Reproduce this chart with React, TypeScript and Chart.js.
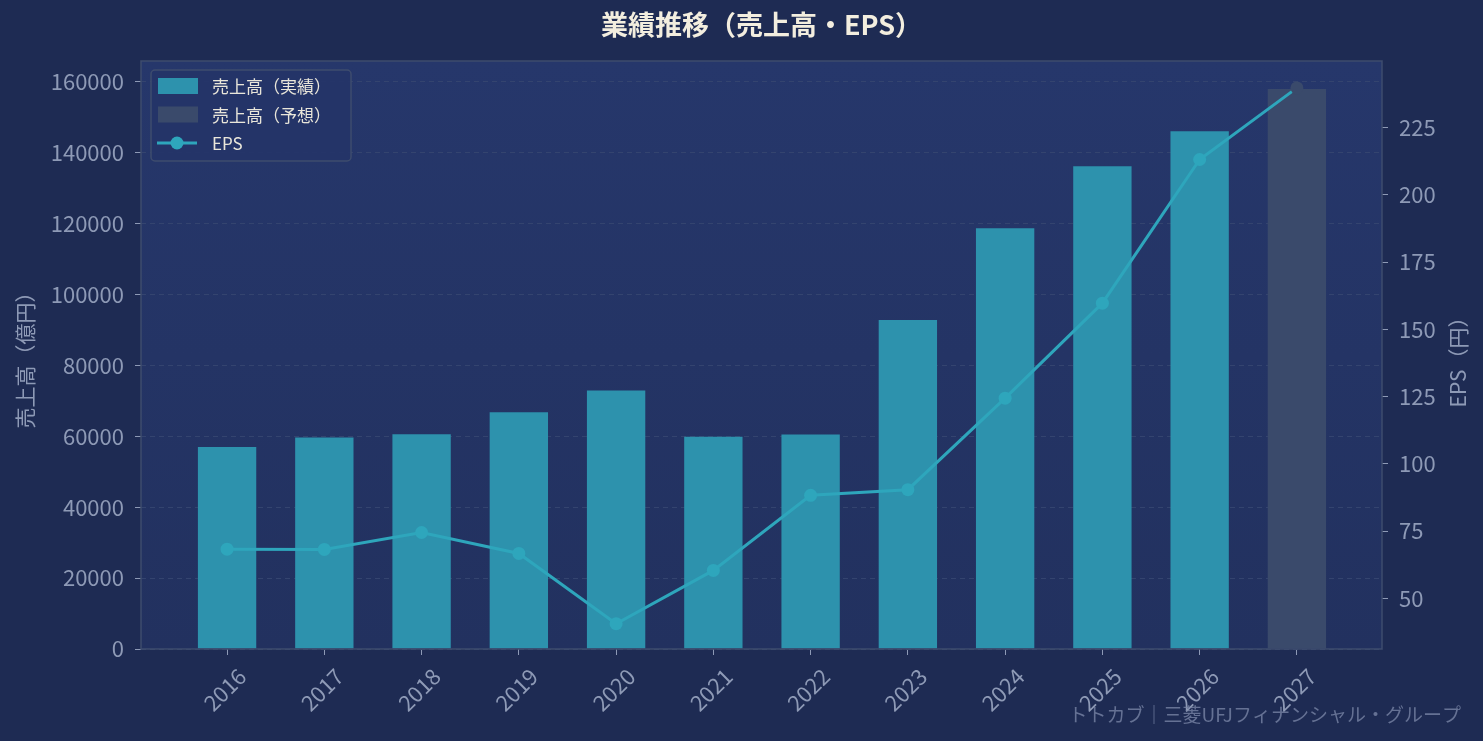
import React, { useEffect, useRef } from "react";
import { Chart, registerables } from "chart.js";

Chart.register(...registerables);

// ---- data ----
const years = ["2016", "2017", "2018", "2019", "2020", "2021", "2022", "2023", "2024", "2025", "2026", "2027"];
const revenueActual = [57000, 59700, 60600, 66800, 72900, 59900, 60500, 92800, 118700, 136200, 146100];
const revenueForecast = [158000];
const forecastStart = 11;
const eps = [68.3, 68.2, 74.5, 66.7, 40.6, 60.4, 88.3, 90.4, 124.4, 159.7, 213.1, 239.7];
const revenueTicks = [0, 20000, 40000, 60000, 80000, 100000, 120000, 140000, 160000];
const epsTicks = [50, 75, 100, 125, 150, 175, 200, 225];

const titleText = "業績推移（売上高・EPS）";
const leftTitle = "売上高（億円）";
const rightTitle = "EPS（円）";
const watermark = "トトカブ｜三菱UFJフィナンシャル・グループ";
const labelActual = "売上高（実績）";
const labelForecast = "売上高（予想）";
const labelEps = "EPS";

// ---- styles ----
const FONT = "'Noto Sans CJK JP', 'Noto Sans', sans-serif";
const BG = "#1e2b53";
const PLOT_TOP = "#26376b";
const PLOT_BOTTOM = "#22315f";
const FRAME = "#3e4c6e";
const TICK = "#8e9ab6";
const GRID = "#34446f";
const BAR_ACTUAL = "#2d92ad";
const BAR_FORECAST = "#3a4a6b";
const LINE = "#2ea6bc";
const TITLE_COLOR = "#f3eedf";
const LEGEND_TEXT = "#e9e6da";
const TICK_SIZE = 22;

const bgPlugin = {
  id: "bgPlugin",
  beforeDraw(chart: any) {
    const { ctx, chartArea: ca, width, height } = chart;
    ctx.save();
    ctx.fillStyle = BG;
    ctx.fillRect(0, 0, width, height);
    const g = ctx.createLinearGradient(0, ca.top, 0, ca.bottom);
    g.addColorStop(0, PLOT_TOP);
    g.addColorStop(1, PLOT_BOTTOM);
    ctx.fillStyle = g;
    ctx.fillRect(ca.left, ca.top, ca.right - ca.left, ca.bottom - ca.top);
    ctx.restore();
  },
  afterDatasetsDraw(chart: any) {
    const { ctx, chartArea: ca } = chart;
    ctx.save();
    ctx.strokeStyle = FRAME;
    ctx.lineWidth = 1.5;
    ctx.strokeRect(ca.left, ca.top, ca.right - ca.left, ca.bottom - ca.top);

    // legend
    const ds = chart.data.datasets;
    ctx.font = `17px ${FONT}`;
    const maxText = Math.max(...ds.map((d: any) => ctx.measureText(d.label).width));
    const fx = ca.left + 10;
    const fy = ca.top + 9;
    const fw = 61 + maxText + 20;
    const fh = 91;
    ctx.beginPath();
    ctx.roundRect(fx, fy, fw, fh, 4);
    ctx.fillStyle = "rgba(36,52,104,0.92)";
    ctx.fill();
    ctx.strokeStyle = FRAME;
    ctx.lineWidth = 1.5;
    ctx.stroke();
    ds.forEach((d: any, i: number) => {
      const cy = fy + 16 + i * 28.5;
      if (d.type === "line") {
        ctx.strokeStyle = d.borderColor;
        ctx.lineWidth = 3;
        ctx.beginPath();
        ctx.moveTo(fx + 6, cy);
        ctx.lineTo(fx + 46, cy);
        ctx.stroke();
        ctx.fillStyle = d.borderColor;
        ctx.beginPath();
        ctx.arc(fx + 26, cy, 6.5, 0, Math.PI * 2);
        ctx.fill();
      } else {
        ctx.fillStyle = d.backgroundColor;
        ctx.fillRect(fx + 7, cy - 8, 40, 16);
      }
      ctx.fillStyle = LEGEND_TEXT;
      ctx.textAlign = "left";
      ctx.textBaseline = "middle";
      ctx.fillText(d.label, fx + 61, cy + 1);
    });
    ctx.restore();
  },
  afterDraw(chart: any) {
    const { ctx, chartArea: ca, width, height } = chart;
    ctx.save();
    // right axis title (reads bottom to top)
    ctx.translate(width - 25, (ca.top + ca.bottom) / 2 + 2);
    ctx.rotate(-Math.PI / 2);
    ctx.font = `21px ${FONT}`;
    ctx.fillStyle = TICK;
    ctx.textAlign = "center";
    ctx.textBaseline = "middle";
    ctx.fillText(rightTitle, 0, 0);
    ctx.restore();

    ctx.save();
    ctx.font = `19px ${FONT}`;
    ctx.fillStyle = "rgba(125,138,170,0.75)";
    ctx.textAlign = "right";
    ctx.textBaseline = "middle";
    ctx.fillText(watermark, width - 22, height - 26);
    ctx.restore();
  },
};

export default function App() {
  const ref = useRef<HTMLCanvasElement | null>(null);

  useEffect(() => {
    document.body.style.margin = "0";
    document.body.style.background = BG;
    Chart.defaults.font.family = FONT;
    const canvas = ref.current;
    if (!canvas) return;

    const actualPts = revenueActual.map((v, i) => ({ x: i, y: v }));
    const forecastPts = revenueForecast.map((v, i) => ({ x: forecastStart + i, y: v }));
    const epsPts = eps.map((v, i) => ({ x: i, y: v }));
    const pointColors = eps.map((_, i) => (i >= forecastStart ? BAR_FORECAST : LINE));

    const chart = new Chart(canvas, {
      type: "bar",
      data: {
        datasets: [
          {
            type: "bar",
            label: labelActual,
            data: actualPts,
            backgroundColor: BAR_ACTUAL,
            yAxisID: "y",
            order: 2,
            barPercentage: 0.6,
            categoryPercentage: 1,
            grouped: false,
          } as any,
          {
            type: "bar",
            label: labelForecast,
            data: forecastPts,
            backgroundColor: BAR_FORECAST,
            yAxisID: "y",
            order: 1,
            barPercentage: 0.6,
            categoryPercentage: 1,
            grouped: false,
          } as any,
          {
            type: "line",
            label: labelEps,
            data: epsPts,
            borderColor: LINE,
            borderWidth: 3,
            pointRadius: 6.5,
            pointBackgroundColor: pointColors,
            pointBorderWidth: 0,
            yAxisID: "y1",
            order: 0,
            tension: 0,
          } as any,
        ],
      },
      options: {
        animation: false,
        responsive: true,
        maintainAspectRatio: false,
        devicePixelRatio: 1,
        events: [],
        layout: { padding: 0 },
        plugins: {
          legend: { display: false },
          tooltip: { enabled: false },
          title: {
            display: true,
            fullSize: false,
            text: titleText,
            color: TITLE_COLOR,
            font: { family: FONT, size: 27, weight: "bold" },
            padding: { top: 9, bottom: 19.6 },
          },
        },
        scales: {
          x: {
            type: "linear",
            position: "bottom",
            min: -0.885,
            max: 11.875,
            offset: false,
            grid: { offset: false, drawOnChartArea: false, drawTicks: true, tickLength: 6, tickColor: TICK, color: GRID },
            border: { display: false },
            ticks: {
              stepSize: 1,
              includeBounds: false,
              autoSkip: false,
              minRotation: 45,
              maxRotation: 45,
              labelOffset: 15,
              padding: 8,
              color: TICK,
              font: { family: FONT, size: TICK_SIZE },
              callback: (v: any) => (Number.isInteger(v) && years[v] !== undefined ? years[v] : ""),
            },
            afterFit: (s: any) => {
              s.height = 92;
            },
          } as any,
          y: {
            type: "linear",
            position: "left",
            min: 0,
            max: 165900,
            grid: { color: GRID, lineWidth: 1, tickLength: 6, tickColor: TICK, tickBorderDash: [], tickWidth: 1 },
            border: { display: false, dash: [5, 4] },
            ticks: {
              padding: 11,
              color: TICK,
              font: { family: FONT, size: TICK_SIZE },
              callback: (v: any) => String(v),
            },
            afterBuildTicks: (s: any) => {
              s.ticks = revenueTicks.map((v) => ({ value: v }));
            },
            title: {
              display: true,
              text: leftTitle,
              color: TICK,
              font: { family: FONT, size: 21 },
              padding: { top: 12, bottom: 0 },
            },
            afterFit: (s: any) => {
              s.width = 141;
            },
          } as any,
          y1: {
            type: "linear",
            position: "right",
            min: 31.2,
            max: 249.7,
            grid: { drawOnChartArea: false, tickLength: 6, tickColor: TICK, color: GRID },
            border: { display: false },
            ticks: {
              padding: 11,
              color: TICK,
              font: { family: FONT, size: TICK_SIZE },
              callback: (v: any) => String(v),
            },
            afterBuildTicks: (s: any) => {
              s.ticks = epsTicks.map((v) => ({ value: v }));
            },
            afterFit: (s: any) => {
              s.width = 101;
            },
          } as any,
        },
      } as any,
      plugins: [bgPlugin],
    });

    return () => chart.destroy();
  }, []);

  return (
    <div style={{ position: "fixed", left: 0, top: 0, width: 1483, height: 741, background: BG }}>
      <canvas ref={ref} />
    </div>
  );
}
